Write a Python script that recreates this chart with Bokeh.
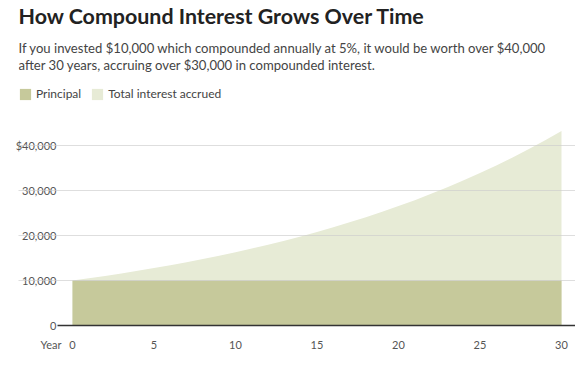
from bokeh.plotting import figure
from bokeh.models import Label, Legend, LegendItem, FixedTicker, Range1d
from bokeh.embed import file_html
from bokeh.resources import INLINE

years = list(range(0, 31))
principal = [10000] * 31
total_value = [10000, 10500, 11025, 11576, 12155, 12763, 13401, 14071, 14775, 15513,
               16289, 17103, 17959, 18856, 19799, 20789, 21829, 22920, 24066, 25270,
               26533, 27860, 29253, 30715, 32251, 33864, 35557, 37335, 39201, 41161, 43219]
y_ticks = [0, 10000, 20000, 30000, 40000]
y_tick_labels = ["0", "10,000", "20,000", "30,000", "$40,000"]
x_ticks = [0, 5, 10, 15, 20, 25, 30]
x_axis_name = "Year"

title_text = "How Compound Interest Grows Over Time"
subtitle_1 = "If you invested $10,000 which compounded annually at 5%, it would be worth over $40,000"
subtitle_2 = "after 30 years, accruing over $30,000 in compounded interest."
legend_labels = ["Principal", "Total interest accrued"]

FONT = "Lato"
C_PRIN = "#c6c99b"
C_INT = "#e7ebd6"
X0, X1 = -3.313, 30.859
Y1 = 72222
YEAR_POS = -1.32

p = figure(width=575, height=366, output_backend="svg", toolbar_location=None,
           x_range=Range1d(X0, X1), y_range=Range1d(0, Y1),
           min_border_left=18, min_border_right=0, min_border_top=0, min_border_bottom=41)
p.outline_line_color = None

r_int = p.varea(x=years, y1=0, y2=total_value, fill_color=C_INT)
r_prin = p.varea(x=years, y1=0, y2=principal, fill_color=C_PRIN)

# y axis (labels pulled to the right of the panel edge)
p.yaxis.ticker = FixedTicker(ticks=y_ticks)
p.yaxis.major_label_overrides = {t: l for t, l in zip(y_ticks, y_tick_labels)}
p.yaxis.axis_line_color = None
p.yaxis.major_tick_line_color = None
p.yaxis.minor_tick_line_color = None
p.yaxis.major_label_standoff = -44
p.yaxis.major_label_text_font = FONT
p.yaxis.major_label_text_font_size = "11px"
p.yaxis.major_label_text_color = "#555555"

# x axis
p.xaxis.ticker = FixedTicker(ticks=[YEAR_POS] + x_ticks)
p.xaxis.major_label_overrides = {YEAR_POS: x_axis_name}
p.xaxis.bounds = (-0.92, X1)
p.xaxis.axis_line_color = "#333333"
p.xaxis.axis_line_width = 1.5
p.xaxis.major_tick_line_color = None
p.xaxis.minor_tick_line_color = None
p.xaxis.major_label_standoff = 6
p.xaxis.major_label_text_font = FONT
p.xaxis.major_label_text_font_size = "11px"
p.xaxis.major_label_text_color = "#555555"

p.xgrid.grid_line_color = None
p.ygrid.grid_line_color = "#cccccc"
p.ygrid.grid_line_alpha = 0.65
p.ygrid.level = "overlay"
p.ygrid.ticker = FixedTicker(ticks=y_ticks[1:])
p.ygrid.bounds = (-0.613, X1)

# header texts (screen units from frame bottom-left)
p.add_layout(Label(x=0, y=310, x_units="screen", y_units="screen", text=title_text,
                   text_baseline="middle", text_font=FONT, text_font_size="21.4px",
                   text_font_style="bold", text_color="#222222"))
p.add_layout(Label(x=0, y=278, x_units="screen", y_units="screen", text=subtitle_1,
                   text_baseline="middle", text_font=FONT, text_font_size="13.1px",
                   text_color="#444444"))
p.add_layout(Label(x=0, y=261, x_units="screen", y_units="screen", text=subtitle_2,
                   text_baseline="middle", text_font=FONT, text_font_size="13.1px",
                   text_color="#444444"))

legend = Legend(items=[LegendItem(label=legend_labels[0], renderers=[r_prin]),
                       LegendItem(label=legend_labels[1], renderers=[r_int])],
                location=(0, 224), orientation="horizontal",
                glyph_width=14, glyph_height=14, label_standoff=4, spacing=9,
                padding=0, margin=0, border_line_color=None, background_fill_alpha=0,
                label_text_font=FONT, label_text_font_size="12px",
                label_text_color="#444444", label_height=14)
p.add_layout(legend)

open("out.html", "w").write(file_html(p, INLINE))
